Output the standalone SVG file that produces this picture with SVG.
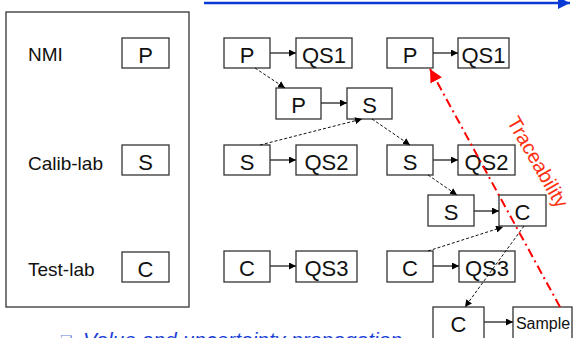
<svg xmlns="http://www.w3.org/2000/svg" width="575" height="338" viewBox="0 0 575 338">
  <defs>
    <marker id="arr" viewBox="0 0 10 10" refX="10" refY="5" markerWidth="7" markerHeight="7" markerUnits="userSpaceOnUse" orient="auto">
      <path d="M0,0 L10,5 L0,10 z" fill="#000"/>
    </marker>
    <marker id="arrBlue" viewBox="0 0 10 10" refX="10" refY="5" markerWidth="12" markerHeight="12" markerUnits="userSpaceOnUse" orient="auto">
      <path d="M0,0 L10,5 L0,10 z" fill="#0a3ad6"/>
    </marker>
    <marker id="arrRed" viewBox="0 0 10 10" refX="10" refY="5" markerWidth="13" markerHeight="13" markerUnits="userSpaceOnUse" orient="auto">
      <path d="M0,0 L10,5 L0,10 z" fill="#ff0000"/>
    </marker>
  </defs>
  <style>
    .box { fill: #fff; stroke: #333; stroke-width: 1.3; }
    .lbl { font-family: "Liberation Sans", Arial, sans-serif; font-size: 19px; fill: #111; }
    .t { font-family: "Liberation Sans", Arial, sans-serif; font-size: 22px; fill: #111; text-anchor: middle; }
    .ts { font-family: "Liberation Sans", Arial, sans-serif; font-size: 16px; fill: #111; text-anchor: middle; }
    .solid { stroke: #333; stroke-width: 1.4; fill: none; marker-end: url(#arr); }
    .dash { stroke: #111; stroke-width: 1; stroke-dasharray: 3 2; fill: none; marker-end: url(#arr); }
  </style>
  <rect width="575" height="338" fill="#fff"/>

  <!-- time axis -->
  <line x1="204" y1="3" x2="570" y2="3" stroke="#0a3ad6" stroke-width="2.5" marker-end="url(#arrBlue)"/>

  <!-- legend panel -->
  <g id="legend">
    <rect x="6" y="12" width="183" height="295" fill="#fff" stroke="#333" stroke-width="1.3"/>
    <text class="lbl" x="28" y="61">NMI</text>
    <text class="lbl" x="28" y="170">Calib-lab</text>
    <text class="lbl" x="28" y="276">Test-lab</text>
  </g>
  <g id="leg-p"><rect class="box" x="122" y="38" width="47" height="30"/><text class="t" x="145.5" y="63">P</text></g>
  <g id="leg-s"><rect class="box" x="122" y="145" width="47" height="30"/><text class="t" x="145.5" y="170">S</text></g>
  <g id="leg-c"><rect class="box" x="122" y="252" width="47" height="30"/><text class="t" x="145.5" y="277">C</text></g>

  <!-- first period -->
  <g id="p1"><rect class="box" x="224" y="38" width="46" height="30"/><text class="t" x="247" y="63">P</text></g>
  <g id="qs1a"><rect class="box" x="296" y="38" width="56" height="30"/><text class="t" x="324" y="63">QS1</text></g>
  <g id="s1"><rect class="box" x="224" y="145" width="46" height="30"/><text class="t" x="247" y="170">S</text></g>
  <g id="qs2a"><rect class="box" x="296" y="145" width="61" height="30"/><text class="t" x="326.5" y="170">QS2</text></g>
  <g id="c1"><rect class="box" x="224" y="251" width="46" height="31"/><text class="t" x="247" y="276">C</text></g>
  <g id="qs3a"><rect class="box" x="296" y="251" width="61" height="31"/><text class="t" x="326.5" y="276">QS3</text></g>

  <!-- calibration of S against P -->
  <g id="p2"><rect class="box" x="276" y="88" width="45" height="31"/><text class="t" x="298.5" y="113">P</text></g>
  <g id="s2"><rect class="box" x="347" y="88" width="45" height="31"/><text class="t" x="369.5" y="113">S</text></g>

  <!-- second period -->
  <g id="p3"><rect class="box" x="387" y="38" width="46" height="30"/><text class="t" x="410" y="63">P</text></g>
  <g id="qs1b"><rect class="box" x="458" y="38" width="51" height="30"/><text class="t" x="483.5" y="63">QS1</text></g>
  <g id="s3"><rect class="box" x="387" y="145" width="46" height="30"/><text class="t" x="410" y="170">S</text></g>
  <g id="qs2b"><rect class="box" x="458" y="145" width="57" height="30"/><text class="t" x="486.5" y="170">QS2</text></g>
  <g id="c3"><rect class="box" x="387" y="251" width="46" height="31"/><text class="t" x="410" y="276">C</text></g>
  <g id="qs3b"><rect class="box" x="459" y="251" width="56" height="31"/><text class="t" x="487" y="276">QS3</text></g>

  <!-- calibration of C against S -->
  <g id="s4"><rect class="box" x="428" y="195" width="46" height="31"/><text class="t" x="451" y="220">S</text></g>
  <g id="c4"><rect class="box" x="499" y="195" width="47" height="31"/><text class="t" x="522.5" y="220">C</text></g>

  <!-- measurement of the sample -->
  <g id="c5"><rect class="box" x="433" y="307" width="51" height="40"/><text class="t" x="458.5" y="332">C</text></g>
  <g id="sample"><rect class="box" x="513" y="307" width="59" height="40"/><text class="ts" x="543" y="329">Sample</text></g>

  <!-- connectors -->
  <g id="connectors">
    <line class="solid" x1="270" y1="53" x2="296" y2="53"/>
    <line class="solid" x1="270" y1="160" x2="296" y2="160"/>
    <line class="solid" x1="270" y1="266" x2="296" y2="266"/>
    <line class="solid" x1="321" y1="103" x2="347" y2="103"/>
    <line class="solid" x1="433" y1="53" x2="458" y2="53"/>
    <line class="solid" x1="433" y1="160" x2="458" y2="160"/>
    <line class="solid" x1="433" y1="266" x2="459" y2="266"/>
    <line class="solid" x1="474" y1="211" x2="499" y2="211"/>
    <line class="solid" x1="484" y1="322" x2="513" y2="322"/>

    <line class="dash" x1="255" y1="68" x2="285" y2="88"/>
    <line class="dash" x1="260" y1="145" x2="362" y2="119"/>
    <line class="dash" x1="372" y1="119" x2="410" y2="145"/>
    <line class="dash" x1="428" y1="175" x2="457" y2="195"/>
    <line class="dash" x1="428" y1="251" x2="503" y2="227"/>
    <line class="dash" x1="524" y1="226" x2="465" y2="307"/>

    <line x1="560" y1="307" x2="430" y2="69" stroke="#ff0000" stroke-width="2" stroke-dasharray="9 4 2 4" marker-end="url(#arrRed)"/>
  </g>

  <text x="538" y="169" transform="rotate(60 538 162)" font-family="'Liberation Sans', Arial, sans-serif" font-size="20" fill="#ff3010" text-anchor="middle">Traceability</text>

  <!-- caption, partly below the frame -->
  <text x="60" y="345" font-family="'DejaVu Sans', sans-serif" font-size="14" fill="#6a86e0">❏</text>
  <text x="83" y="347" font-family="'Liberation Sans', Arial, sans-serif" font-size="21" font-style="italic" fill="#1a3fd6">Value and uncertainty propagation</text>
</svg>
